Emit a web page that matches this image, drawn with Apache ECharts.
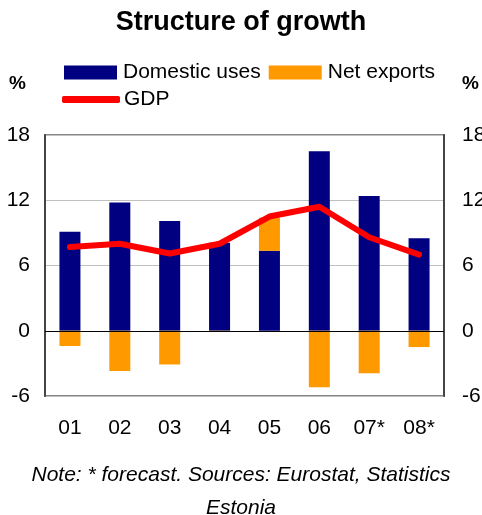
<!DOCTYPE html>
<html><head><meta charset="utf-8">
<script src="https://cdn.jsdelivr.net/npm/echarts@6/dist/echarts.min.js"></script>
<style>html,body{margin:0;padding:0;background:#fff}#c{width:482px;height:515px}</style>
</head><body><div id="c"></div>
<script>
const categories = ['01','02','03','04','05','06','07*','08*'];
const domesticUses = [9.1, 11.8, 10.1, 8.1, 7.35, 16.5, 12.4, 8.5];
const netExports = [-1.4, -3.7, -3.1, -0.1, 3.05, -5.2, -3.9, -1.5];
const gdp = [7.7, 8.0, 7.1, 8.0, 10.5, 11.4, 8.6, 7.0];
const yTicks = [-6, 0, 6, 12, 18];

const F = 'Liberation Sans, Arial, sans-serif';
const chart = echarts.init(document.getElementById('c'));
const yAxisBase = {
  type: 'value', min: yTicks[0], max: yTicks[yTicks.length-1], interval: 6,
  axisLine: {show: true, lineStyle: {color: '#444', width: 2}},
  axisTick: {show: false},
  splitLine: {show: true, lineStyle: {color: '#c0c0c0', width: 1}},
  axisLabel: {color: '#000', fontSize: 21, fontFamily: F, margin: 15}
};
chart.setOption({
  animation: false,
  title: {text: 'Structure of growth', left: 'center', top: 4,
    textStyle: {fontSize: 27, fontWeight: 'bold', fontFamily: F, color: '#000'}},
  legend: [
    {data: ['Domestic uses', 'Net exports'], left: 59, top: 57, itemWidth: 53, itemHeight: 14, itemGap: 8,
      icon: 'rect', textStyle: {fontSize: 21, fontFamily: F, color: '#000', padding: [0,0,0,1]}},
    {data: [{name: 'GDP', icon: 'roundRect'}], left: 57, top: 84, itemWidth: 58, itemHeight: 7,
      textStyle: {fontSize: 21, fontFamily: F, color: '#000', padding: [0,0,0,-1]}}
  ],
  grid: {left: 45, right: 38, top: 135, bottom: 119, show: true, borderColor: '#888', borderWidth: 2,
    containLabel: false, outerBoundsMode: 'none'},
  xAxis: {type: 'category', data: categories,
    axisLine: {show: false, onZero: false}, axisTick: {show: false},
    axisLabel: {color: '#000', fontSize: 21, fontFamily: F, margin: 22}},
  yAxis: [
    Object.assign({}, yAxisBase, {position: 'left', name: '%', nameLocation: 'end', nameGap: 42,
      nameTextStyle: {fontSize: 19, fontWeight: 'bold', fontFamily: F, color: '#000', align: 'right', padding: [0, 19, 0, 0]}}),
    Object.assign({}, yAxisBase, {position: 'right', splitLine: {show: false}, name: '%', nameLocation: 'end', nameGap: 42,
      axisLabel: {color: '#000', fontSize: 21, fontFamily: F, margin: 18},
      nameTextStyle: {fontSize: 19, fontWeight: 'bold', fontFamily: F, color: '#000', align: 'left', padding: [0, 0, 0, 18]}})
  ],
  series: [
    {name: 'Domestic uses', type: 'bar', stack: 's', data: domesticUses, barWidth: 21,
      itemStyle: {color: '#000080'},
      markLine: {silent: true, symbol: 'none', label: {show: false},
        lineStyle: {color: '#000', width: 1, type: 'solid'}, data: [{yAxis: 0}]}},
    {name: 'Net exports', type: 'bar', stack: 's', data: netExports, barWidth: 21,
      itemStyle: {color: '#FF9900'}},
    {name: 'GDP', type: 'line', data: gdp, symbol: 'none', z: 5,
      lineStyle: {color: '#FF0000', width: 6, cap: 'round', join: 'round'},
      itemStyle: {color: '#FF0000'}}
  ],
  graphic: [
    {type: 'text', left: 'center', top: 465, style: {text: 'Note: * forecast. Sources: Eurostat, Statistics',
      font: 'italic 21px ' + F, fill: '#000'}},
    {type: 'text', left: 'center', top: 498, style: {text: 'Estonia',
      font: 'italic 21px ' + F, fill: '#000'}}
  ]
});
</script></body></html>
